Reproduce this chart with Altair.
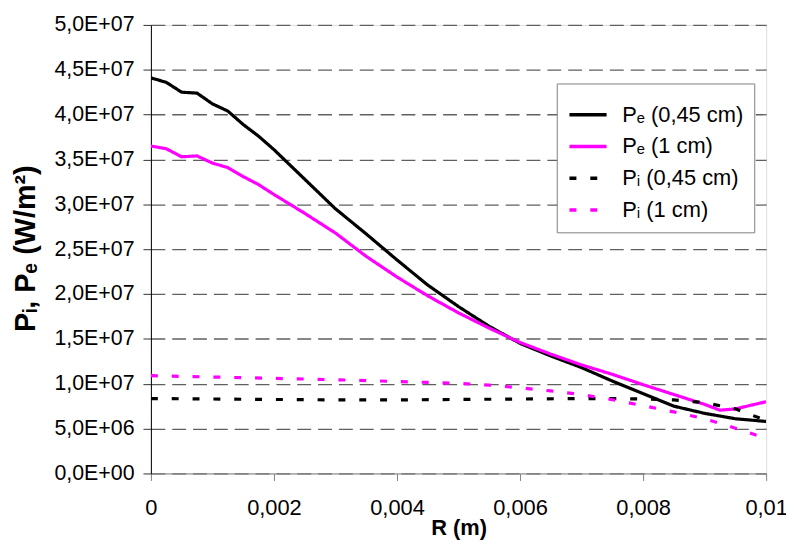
import altair as alt
import pandas as pd

# ---- data (values in 1E6 W/m2) ----
labels = ["Pₑ (0,45 cm)", "Pₑ (1 cm)", "Pᵢ (0,45 cm)", "Pᵢ (1 cm)"]
colors = ["#000000", "#ff00ff", "#000000", "#ff00ff"]
dashes = [[1, 0], [1, 0], [7, 14], [7, 14]]

r_pe = [0, 0.00025, 0.0005, 0.00075, 0.001, 0.00125, 0.0015, 0.00175, 0.002,
        0.0025, 0.003, 0.0035, 0.004, 0.0045, 0.005, 0.0055, 0.006, 0.0065,
        0.007, 0.0075, 0.008, 0.0085, 0.009, 0.0095, 0.01]
pe_045 = [44.1, 43.6, 42.5, 42.4, 41.2, 40.4, 38.9, 37.6, 36.1,
          32.8, 29.5, 26.7, 23.8, 21.0, 18.6, 16.4, 14.5, 13.1,
          11.8, 10.3, 8.9, 7.5, 6.7, 6.1, 5.8]

r_pe1 = [0, 0.00025, 0.0005, 0.00075, 0.001, 0.00125, 0.0015, 0.00175, 0.002,
         0.0025, 0.003, 0.0035, 0.004, 0.0045, 0.005, 0.0055, 0.006, 0.0065,
         0.007, 0.0075, 0.008, 0.0085, 0.009, 0.00925, 0.0095, 0.01]
pe_1 = [36.5, 36.2, 35.3, 35.4, 34.6, 34.1, 33.1, 32.2, 31.1,
        29.0, 26.8, 24.2, 21.9, 19.8, 17.9, 16.2, 14.6, 13.3,
        12.1, 11.05, 9.9, 8.8, 7.7, 7.05, 7.2, 8.0]

r_pi045 = [0, 0.001, 0.002, 0.003, 0.004, 0.005, 0.006, 0.007, 0.0075,
           0.008, 0.0085, 0.009, 0.0095, 0.01]
pi_045 = [8.35, 8.3, 8.25, 8.2, 8.2, 8.25, 8.3, 8.35, 8.35,
          8.3, 8.2, 7.9, 7.2, 5.9]

r_pi1 = [0, 0.001, 0.002, 0.003, 0.004, 0.0045, 0.005, 0.0055, 0.006, 0.0065,
         0.007, 0.0075, 0.008, 0.0085, 0.009, 0.0095, 0.01]
pi_1 = [10.9, 10.75, 10.6, 10.45, 10.25, 10.15, 10.05, 9.85, 9.55, 9.2,
        8.8, 8.22, 7.56, 6.86, 6.1, 5.05, 3.9]

x_ticks = [0, 0.002, 0.004, 0.006, 0.008, 0.01]
y_ticks = [0, 5e6, 1e7, 1.5e7, 2e7, 2.5e7, 3e7, 3.5e7, 4e7, 4.5e7, 5e7]

rows = []
for lab, rs, vs in zip(labels, [r_pe, r_pe1, r_pi045, r_pi1], [pe_045, pe_1, pi_045, pi_1]):
    for r, v in zip(rs, vs):
        rows.append({"series": lab, "R": r, "P": v * 1e6})
df = pd.DataFrame(rows)

FONT = "Liberation Sans"

legend = alt.Legend(
    title=None,
    orient="none", legendX=409, legendY=59,
    symbolType="stroke", symbolSize=1400, symbolStrokeWidth=3.5,
    labelFontSize=22, labelFont=FONT, labelColor="black", labelOffset=14,
    labelBaseline="middle", rowPadding=0, padding=11,
    strokeColor="#808080", fillColor="white",
)

chart = alt.Chart(df).mark_line(strokeWidth=3.2, strokeCap="butt", clip=True).encode(
    x=alt.X("R:Q", scale=alt.Scale(domain=[0, 0.01], nice=False),
            axis=alt.Axis(values=x_ticks, labelFlush=False, labelOverlap=False,
                          labelExpr="replace(format(datum.value, '.3~f'), '.', ',')",
                          title="R (m)", titleFont=FONT, titleFontSize=22, titleFontWeight="bold",
                          titleX=310, titleY=55, titleBaseline="middle", titleColor="black",
                          labelFont=FONT, labelFontSize=22, labelColor="black", labelPadding=17,
                          tickSize=7, tickColor="#808080", domainColor="#808080", grid=False)),
    y=alt.Y("P:Q", scale=alt.Scale(domain=[0, 5e7], nice=False),
            axis=alt.Axis(values=y_ticks, labelOverlap=False, labelFlush=False,
                          labelExpr="replace(replace(format(datum.value, '.1e'), '.', ','), 'e+', 'E+0')",
                          title="Pᵢ, Pₑ (W/m²)", titleFont=FONT, titleFontSize=29, titleFontWeight="bold",
                          titleAngle=270, titleX=-126, titleY=225, titleAlign="center",
                          titleBaseline="middle", titleColor="black",
                          labelFont=FONT, labelFontSize=21.5, labelColor="black", labelPadding=9,
                          tickSize=8, tickColor="#333333", domainColor="black",
                          grid=True, gridDash=[14, 7], gridColor="#606060", gridWidth=1.3)),
    color=alt.Color("series:N", scale=alt.Scale(domain=labels, range=colors), legend=legend),
    strokeDash=alt.StrokeDash("series:N", scale=alt.Scale(domain=labels, range=dashes), legend=legend),
).properties(
    width=620, height=452,
    padding={"left": 144, "top": 15, "right": 20, "bottom": 66},
    autosize=alt.AutoSizeParams(type="none"),
).configure_view(stroke="#999999", strokeWidth=1.3).configure(background="white")

chart.save("out.html", embed_options={"renderer": "svg", "actions": False})
